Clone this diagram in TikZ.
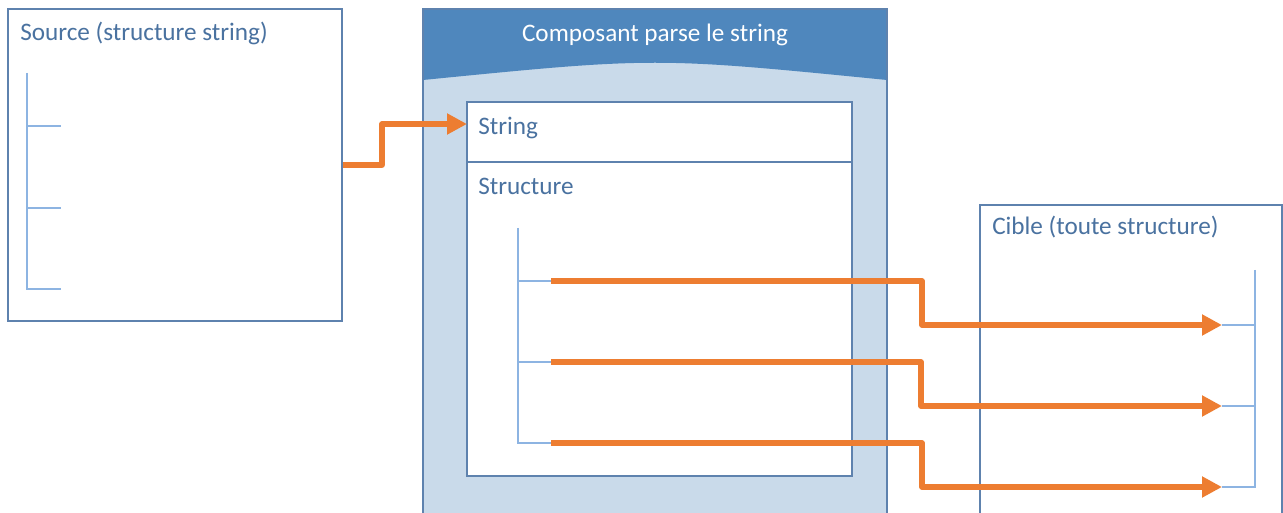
\documentclass[tikz,border=0pt]{standalone}
\usepackage{fontspec}
\setmainfont{Carlito}
\usetikzlibrary{arrows.meta}
\definecolor{txtblue}{HTML}{4A72A0}
\definecolor{boxline}{HTML}{5E82AE}
\definecolor{treeline}{HTML}{8DB4E2}
\definecolor{hdrblue}{HTML}{4F87BD}
\definecolor{contfill}{HTML}{C9DAEA}
\definecolor{orangeA}{HTML}{ED7D31}
\begin{document}
\begin{tikzpicture}[x=0.75pt,y=-0.75pt,
  lbl/.style={font=\fontsize{18.9}{22}\selectfont, text=txtblue, inner sep=0pt, anchor=base west},
  panel/.style={draw=boxline, line width=1.1pt},
  tree/.style={draw=treeline, line width=1.1pt},
  flow/.style={draw=orangeA, line width=3.8pt, line join=round, -{Triangle[length=15pt,width=15pt]}}]
\clip (0,0) rectangle (1283,513);
\fill[white] (0,0) rectangle (1283,513);

% Source box
\node[panel, fill=white, minimum width=250.5pt, minimum height=234pt, inner sep=0pt] (src) at (175,165) {};
\node[lbl] (srclbl) at (20,41) {Source (structure string)};
\coordinate (s0) at (27,73);
\coordinate (s1) at (27,126);
\coordinate (s2) at (27,208);
\coordinate (s3) at (27,289);
\draw[tree] (s0) -- (s3) -- ++(34,0);
\draw[tree] (s1) -- ++(34,0);
\draw[tree] (s2) -- ++(34,0);

% Middle component
\fill[contfill] (423,9) rectangle (887,530);
\fill[hdrblue] (423,9) -- (887,9) -- (887,80) .. controls (655,57) .. (423,80) -- cycle;
\draw[panel] (423,9) rectangle (887,530);
\node[font=\fontsize{18.9}{22}\selectfont, text=white, inner sep=0pt, anchor=base] (hdr) at (655,42) {Composant parse le string};

\node[panel, fill=white, minimum width=288.75pt, minimum height=280.5pt, inner sep=0pt] (inner) at (659.5,289) {};
\draw[panel] (467,162) -- (852,162);
\node[lbl] (strlbl) at (478,135) {String};
\node[lbl] (structlbl) at (478,195) {Structure};
\coordinate (str-in) at (467,124);

\coordinate (m0) at (518,228);
\coordinate (m1) at (518,281);
\coordinate (m2) at (518,362);
\coordinate (m3) at (518,443);
\draw[tree] (m0) -- (m3) -- ++(33,0) coordinate (mo3);
\draw[tree] (m1) -- ++(33,0) coordinate (mo1);
\draw[tree] (m2) -- ++(33,0) coordinate (mo2);

% Target box
\draw[panel] (980,530) -- (980,205) -- (1282,205) -- (1282,530);
\node[lbl] (tgtlbl) at (992,235) {Cible (toute structure)};
\coordinate (t0) at (1255,270);
\coordinate (t1) at (1222,325);
\coordinate (t2) at (1222,406);
\coordinate (t3) at (1222,487);
\draw[tree] (t0) -- (1255,487) -- (t3);
\draw[tree] (t1) -- (1255,325);
\draw[tree] (t2) -- (1255,406);

% Flows
\draw[flow] (src.east) -- (382,165) |- (str-in);
\draw[flow] (mo1) -- (922,281) |- (t1);
\draw[flow] (mo2) -- (921,362) |- (t2);
\draw[flow] (mo3) -- (922,443) |- (t3);
\end{tikzpicture}
\end{document}
